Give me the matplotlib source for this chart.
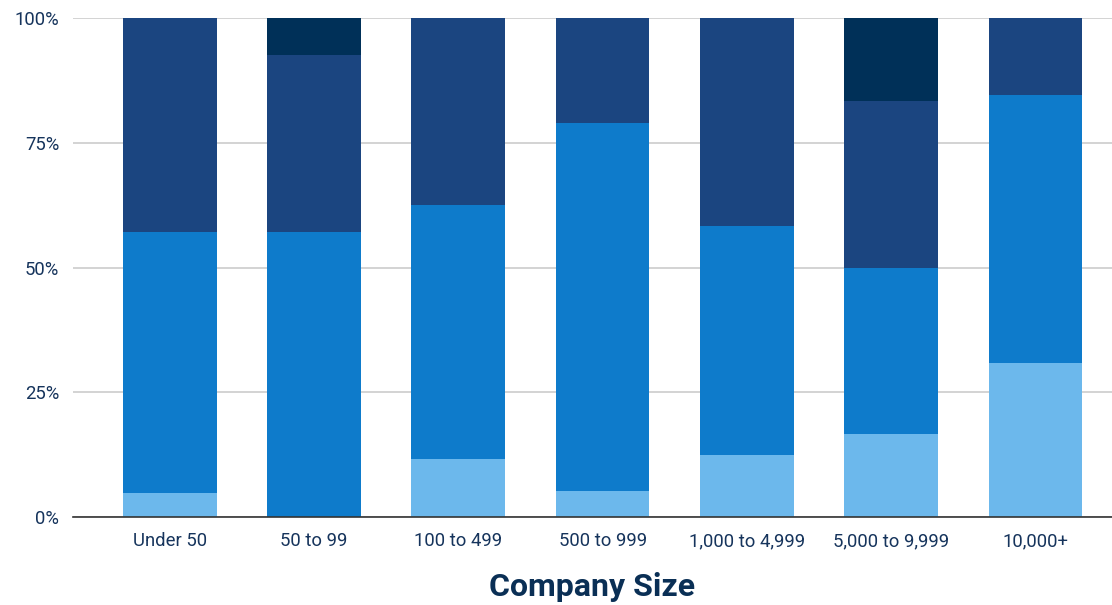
import numpy as np
import matplotlib.pyplot as plt

# share of respondents (%) by company size, stacked bottom to top
sizes = ["Under 50", "50 to 99", "100 to 499", "500 to 999",
         "1,000 to 4,999", "5,000 to 9,999", "10,000+"]
seg_light = [4.8, 0.0, 11.6, 5.2, 12.4, 16.6, 30.8]
seg_mid = [52.4, 57.1, 50.9, 73.8, 45.9, 33.4, 53.8]
seg_dark = [42.8, 35.5, 37.5, 21.0, 41.7, 33.4, 15.4]
seg_darkest = [0.0, 7.4, 0.0, 0.0, 0.0, 16.6, 0.0]

colors = ["#6cb8ec", "#0e7bcb", "#1b4580", "#003058"]
text_color = "#16345c"

plt.rcParams["font.family"] = ["Roboto", "DejaVu Sans"]

fig = plt.figure(figsize=(11.12, 6.05), dpi=100)
ax = fig.add_axes([0.0656, 0.1455, 0.9344, 0.8247])

x = np.arange(len(sizes))
bottom = np.zeros(len(sizes))
for vals, col in zip([seg_light, seg_mid, seg_dark, seg_darkest], colors):
    vals = np.array(vals)
    ax.bar(x, vals, bottom=bottom, width=0.65, color=col, zorder=3)
    bottom += vals

ax.set_xlim(-0.67, 6.53)
ax.set_ylim(0, 100)
ax.set_yticks([0, 25, 50, 75, 100])
ax.set_yticklabels(["0%", "25%", "50%", "75%", "100%"])
ax.set_xticks(x)
ax.set_xticklabels(sizes)
ax.tick_params(axis="both", length=0, labelsize=13.3, labelcolor=text_color)
ax.tick_params(axis="x", pad=11)
ax.tick_params(axis="y", pad=10)

ax.grid(axis="y", color="#cccccc", linewidth=1.2, zorder=0)
for side in ["top", "right", "left"]:
    ax.spines[side].set_visible(False)
ax.spines["bottom"].set_color("#333333")
ax.spines["bottom"].set_linewidth(1.2)
ax.spines["bottom"].set_zorder(4)

ax.set_xlabel("Company Size", fontsize=23, fontweight="bold", color="#0a2f55", labelpad=16)

fig.savefig("out.png", dpi=100)
